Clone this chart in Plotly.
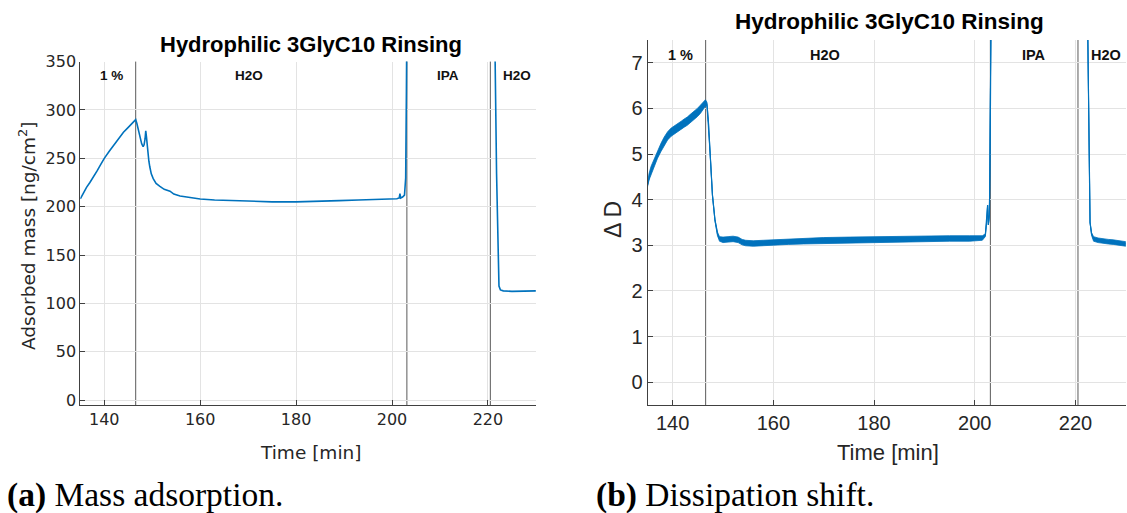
import plotly.graph_objects as go

# ---------------- data ----------------
event_times = [146.55, 203.1, 220.5]
region_labels = ["1 %", "H2O", "IPA", "H2O"]
region_label_times = [141.6, 170.2, 211.7, 226.1]
x_ticks = [140, 160, 180, 200, 220]
mass_ticks = [0, 50, 100, 150, 200, 250, 300, 350]
diss_ticks = [0, 1, 2, 3, 4, 5, 6, 7]

# Mass adsorption [ng/cm^2] vs time [min]
mass_time = [135.0, 135.5, 136.3, 137.0, 137.7, 138.5, 139.3, 140.0, 141.0, 141.9,
             143.0, 144.0, 145.0, 145.7, 146.3, 146.55, 146.8, 147.1, 147.4, 147.8,
             148.1, 148.3, 148.5, 148.65, 148.8, 149.0, 149.3, 149.5, 149.8, 150.2,
             150.8, 151.6, 152.5, 153.7, 154.5, 155.8, 157.5, 160.0, 163.0, 166.0,
             170.0, 175.0, 180.0, 185.0, 189.0, 193.0, 197.0, 201.0, 201.5, 201.65,
             201.8, 202.2, 202.6, 202.85, 203.0, 203.1, None,
             221.45, 221.5, 221.8, 222.1, 222.3, 222.6, 223.2, 225.0, 227.0, 230.0]
mass_val = [208, 213, 220, 225, 230, 237, 244, 250, 257, 263,
            270, 277, 282, 285.5, 288.5, 290, 286, 279, 272, 265,
            262, 264, 270, 278.5, 272, 258, 247, 241, 234, 229,
            224, 221, 218, 216, 213, 211, 209.5, 208, 207, 206.5,
            205.5, 205, 205, 205.3, 206.3, 207, 207.5, 208.2, 209, 213.5,
            209, 210, 212, 230, 320, 400, None,
            400, 350, 234, 150, 118, 114, 113, 112.5, 112.5, 113]

# Dissipation shift: centre of the noisy trace and half-width of its noise band
diss_time_a = [135.0, 135.3, 135.7, 136.3, 137.0, 137.7, 138.3, 139.0, 139.7, 140.3,
               141.0, 141.7, 142.3, 142.9, 143.5, 144.2, 144.9, 145.5, 146.0, 146.5,
               146.8, 147.1, 147.5, 147.9, 148.4, 148.9, 149.3, 150.0, 151.0, 152.0,
               153.0, 153.8, 154.5, 156.0, 158.0, 160.0, 163.0, 166.0, 170.0, 175.0,
               180.0, 185.0, 190.0, 195.0, 199.0, 201.5, 202.1, 202.4, 202.55, 202.7,
               202.9, 203.05, 203.15, 203.3]
diss_mid_a = [4.32, 4.50, 4.65, 4.80, 5.00, 5.15, 5.28, 5.40, 5.48, 5.52,
              5.58, 5.63, 5.68, 5.72, 5.78, 5.84, 5.91, 5.98, 6.05, 6.12,
              6.10, 5.70, 4.90, 4.10, 3.55, 3.25, 3.14, 3.12, 3.13, 3.14,
              3.12, 3.07, 3.05, 3.04, 3.05, 3.06, 3.08, 3.09, 3.11, 3.12,
              3.13, 3.14, 3.14, 3.15, 3.15, 3.16, 3.22, 3.55, 3.88, 3.45,
              3.65, 5.0, 7.0, 9.0]
diss_half_a = [0.04, 0.07, 0.08, 0.09, 0.09, 0.09, 0.09, 0.09, 0.09, 0.09,
               0.09, 0.09, 0.09, 0.09, 0.09, 0.09, 0.09, 0.09, 0.09, 0.07,
               0.04, 0.02, 0.01, 0.01, 0.02, 0.04, 0.05, 0.06, 0.06, 0.06,
               0.06, 0.06, 0.06, 0.06, 0.06, 0.06, 0.06, 0.06, 0.06, 0.06,
               0.06, 0.06, 0.06, 0.06, 0.06, 0.05, 0.03, 0.01, 0.0, 0.0,
               0.0, 0.0, 0.0, 0.0]
diss_time_b = [222.3, 222.45, 222.7, 222.9, 223.2, 223.6, 224.5, 225.5, 226.5, 227.5,
               228.5, 229.5, 230.0]
diss_mid_b = [9.0, 7.5, 5.0, 3.5, 3.25, 3.14, 3.11, 3.09, 3.08, 3.07,
              3.06, 3.04, 3.03]
diss_half_b = [0.0, 0.0, 0.0, 0.01, 0.03, 0.05, 0.05, 0.05, 0.05, 0.05,
               0.05, 0.05, 0.05]

# ---------------- styling ----------------
W, H = 1127, 513
BLUE = "#0072BD"
AX = "#404040"
GRID = "#e3e3e3"
EVT = "#5a5a5a"


def px_x(p):
    return p / W


def px_y(p):
    return 1 - p / H


fig = go.Figure()

fig.add_trace(go.Scatter(x=mass_time, y=mass_val, mode="lines",
                         line=dict(color=BLUE, width=1.6), connectgaps=False,
                         xaxis="x", yaxis="y", showlegend=False, hoverinfo="skip"))

for t, m, h in [(diss_time_a, diss_mid_a, diss_half_a), (diss_time_b, diss_mid_b, diss_half_b)]:
    upper = [a + b for a, b in zip(m, h)]
    lower = [a - b for a, b in zip(m, h)]
    fig.add_trace(go.Scatter(x=t + t[::-1], y=upper + lower[::-1], mode="lines",
                             fill="toself", fillcolor=BLUE,
                             line=dict(color=BLUE, width=0.8),
                             xaxis="x2", yaxis="y2", showlegend=False, hoverinfo="skip"))
    fig.add_trace(go.Scatter(x=t, y=m, mode="lines", line=dict(color=BLUE, width=1.2),
                             xaxis="x2", yaxis="y2", showlegend=False, hoverinfo="skip"))

shapes = []
for xr, yr in [("x", "y domain"), ("x2", "y2 domain")]:
    for t in event_times:
        shapes.append(dict(type="line", xref=xr, yref=yr, x0=t, x1=t, y0=0, y1=1,
                           line=dict(color=EVT, width=1), layer="below"))

annotations = []
for t, lab in zip(region_label_times, region_labels):
    annotations.append(dict(x=t, y=335.5, xref="x", yref="y", text=f"<b>{lab}</b>",
                            xanchor="center", yanchor="middle",
                            showarrow=False, font=dict(family="Liberation Sans", size=13.5, color="#111")))
    annotations.append(dict(x=t, y=7.17, xref="x2", yref="y2", text=f"<b>{lab}</b>",
                            xanchor="center", yanchor="middle",
                            showarrow=False, font=dict(family="Liberation Sans", size=14.5, color="#111")))


def ann(x, y, text, size, family="Liberation Sans", angle=0, xanchor="center", color="#262626"):
    annotations.append(dict(x=px_x(x), y=px_y(y), xref="paper", yref="paper",
                            xanchor=xanchor, yanchor="middle", text=text, textangle=angle,
                            showarrow=False, font=dict(family=family, size=size, color=color)))


ann(311, 44, "<b>Hydrophilic 3GlyC10 Rinsing</b>", 22, color="#000")
ann(889, 21, "<b>Hydrophilic 3GlyC10 Rinsing</b>", 22.5, color="#000")
ann(27, 236, "Adsorbed mass [ng/cm<sup>2</sup>]", 18.5, family="DejaVu Sans", angle=-90)
ann(310, 452, "Time [min]", 18.5, family="DejaVu Sans")
ann(613, 220, "Δ D", 23, angle=-90)
ann(888, 452, "Time [min]", 22)
ann(5, 495, "<b>(a)</b> Mass adsorption.", 33.5, family="Liberation Serif", xanchor="left", color="#000")
ann(594, 495, "<b>(b)</b> Dissipation shift.", 33.5, family="Liberation Serif", xanchor="left", color="#000")

common_axis = dict(showline=True, linecolor=AX, linewidth=1, mirror=False,
                   showgrid=True, gridcolor=GRID, gridwidth=1, zeroline=False,
                   ticks="inside", ticklen=5, tickcolor=AX, tickwidth=1, automargin=False)

fig.update_layout(
    width=W, height=H,
    margin=dict(l=0, r=0, t=0, b=0, pad=0),
    paper_bgcolor="white", plot_bgcolor="white",
    shapes=shapes, annotations=annotations,
    xaxis=dict(domain=[px_x(80.3), px_x(535.9)], range=[135, 230], anchor="y",
               tickvals=x_ticks,
               tickfont=dict(family="DejaVu Sans", size=16, color="#262626"), **common_axis),
    yaxis=dict(domain=[px_y(405), px_y(61.6)], range=[-5, 350], anchor="x",
               tickvals=mass_ticks,
               tickfont=dict(family="DejaVu Sans", size=16, color="#262626"), **common_axis),
    xaxis2=dict(domain=[px_x(647.5), px_x(1125.8)], range=[135, 230], anchor="y2",
                tickvals=x_ticks,
                tickfont=dict(family="Liberation Sans", size=20, color="#262626"), **common_axis),
    yaxis2=dict(domain=[px_y(405), px_y(40)], range=[-0.5, 7.5], anchor="x2",
                tickvals=diss_ticks,
                tickfont=dict(family="Liberation Sans", size=20, color="#262626"), **common_axis),
)

fig.write_html("out.html", config={"displayModeBar": False},
               post_script="document.body.style.margin='0';document.body.style.overflow='hidden';")
